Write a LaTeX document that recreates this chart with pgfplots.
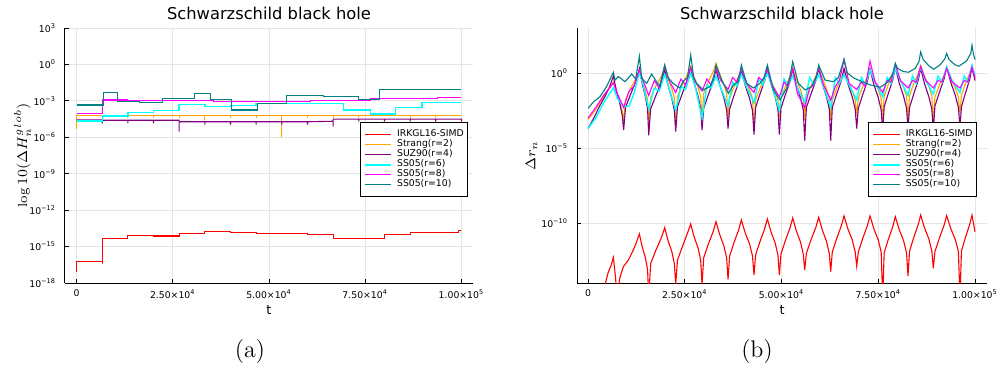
\documentclass[border=0pt]{standalone}
\usepackage{fontspec}
\setsansfont{DejaVu Sans}
\usepackage{pgfplots}
\pgfplotsset{compat=1.18}
\definecolor{cred}{HTML}{FF0000}
\definecolor{corange}{HTML}{FFA500}
\definecolor{cpurple}{HTML}{800080}
\definecolor{ccyan}{HTML}{00FFFF}
\definecolor{cmagenta}{HTML}{FF00FF}
\definecolor{cteal}{HTML}{008080}
\pgfplotsset{
  mystyle/.style={
    scale only axis,
    height=127.5pt,
    axis x line*=bottom, axis y line*=left,
    axis line style={black, line width=0.5pt, -},
    tick align=inside, major tick length=2pt,
    tick style={black, line width=0.5pt},
    grid=major, major grid style={black!10, line width=0.5pt},
    scaled x ticks=false, scaled y ticks=false,
    xtick={0,25000,50000,75000,100000},
    xticklabels={0, 2.50×10\textsuperscript{4}, 5.00×10\textsuperscript{4}, 7.50×10\textsuperscript{4}, 1.00×10\textsuperscript{5}},
    ticklabel style={font=\sffamily\fontsize{4.65}{5}\selectfont},
    yticklabel style={xshift=-1pt},
    title={Schwarzschild black hole},
    every axis title/.style={font=\sffamily\fontsize{8.15}{9}\selectfont, at={(axis description cs:0.5,1.0588)}, anchor=center},
    xlabel={t},
    xlabel style={font=\sffamily\fontsize{6.4}{7}\selectfont, at={(axis description cs:0.5,-0.106)}, anchor=center},
    ylabel style={font=\fontsize{6.6}{7}\selectfont, anchor=center},
    legend style={draw=black, line width=0.5pt, fill=white, anchor=north east,
      font=\sffamily\fontsize{4.65}{5}\selectfont, inner xsep=2pt, inner ysep=3.5pt,
      row sep=0pt, column sep=2.5pt,
      nodes={inner sep=0pt, text height=3.5pt, text depth=1.5pt},
      column 2/.style={nodes={text width=38pt}}},
    legend cell align=left,
    legend image code/.code={\draw[##1] (0pt,0pt) -- (13.3pt,0pt);},
  }
}
\begin{document}
\begin{tikzpicture}
\path[use as bounding box] (0,0) rectangle (500pt,185.5pt);
% ---------------- (a) ----------------
\begin{axis}[mystyle, at={(32.5pt,44pt)}, anchor=south west, width=204pt,
  xmin=-3000, xmax=103000, ymin=-18, ymax=3,
  ytick={-18,-15,-12,-9,-6,-3,0,3},
  yticklabels={10\textsuperscript{−18},10\textsuperscript{−15},10\textsuperscript{−12},10\textsuperscript{−9},10\textsuperscript{−6},10\textsuperscript{−3},10\textsuperscript{0},10\textsuperscript{3}},
  ylabel={$\log10(\Delta H_n^{glob})$},
  ylabel style={at={(axis description cs:-0.104,0.5)}},
  legend style={at={(axis description cs:0.9885,0.630)}},
]
\addplot[cred, line width=0.55pt] coordinates {(0,-17.07) (0,-16.25) (6667,-16.25) (6667,-16.4) (6667,-14.32) (13333,-14.32) (13333,-14.08) (20000,-14.08) (20000,-14.13) (26667,-14.13) (26667,-13.89) (33333,-13.89) (33333,-13.75) (40000,-13.75) (40000,-13.83) (46667,-13.83) (46667,-13.94) (53333,-13.94) (53333,-13.91) (60000,-13.91) (60000,-14.02) (66667,-14.02) (66667,-14.30) (80000,-14.30) (80000,-14.0) (86667,-14.0) (86667,-13.86) (99200,-13.86) (99200,-13.64) (100000,-13.64)};
\addlegendentry{IRKGL16-SIMD}
\addplot[corange, line width=0.55pt] coordinates {(0,-5.35) (0,-4.2) (6667,-4.2) (6667,-4.4) (6667,-4.17) (13333,-4.17) (13333,-4.4) (13333,-4.17) (20000,-4.17) (20000,-4.4) (20000,-4.17) (26667,-4.17) (26667,-4.4) (26667,-4.17) (33333,-4.17) (33333,-4.6) (33333,-4.17) (40000,-4.17) (40000,-4.4) (40000,-4.17) (46667,-4.17) (46667,-4.4) (46667,-4.17) (53333,-4.17) (53333,-6.0) (53333,-4.17) (60000,-4.17) (60000,-4.4) (60000,-4.17) (66667,-4.17) (66667,-4.4) (66667,-4.17) (73333,-4.17) (73333,-4.4) (73333,-4.17) (80000,-4.17) (80000,-4.0) (80000,-4.17) (86667,-4.17) (86667,-4.6) (86667,-4.17) (93333,-4.17) (93333,-4.4) (93333,-4.17) (100000,-4.17)};
\addlegendentry{Strang(r=2)}
\addplot[cpurple, line width=0.55pt] coordinates {(0,-4.58) (6667,-4.58) (6667,-4.85) (6667,-4.6) (13333,-4.6) (13333,-4.85) (13333,-4.6) (20000,-4.6) (20000,-4.85) (20000,-4.6) (26667,-4.6) (26667,-5.54) (26667,-4.72) (33333,-4.72) (33333,-4.95) (33333,-4.72) (40000,-4.72) (40000,-4.95) (40000,-4.72) (46667,-4.72) (46667,-4.95) (46667,-4.72) (53333,-4.72) (53333,-4.95) (53333,-4.72) (60000,-4.72) (60000,-4.95) (60000,-4.72) (66667,-4.68) (66667,-5.13) (66667,-4.5) (73333,-4.5) (73333,-4.72) (73333,-4.5) (80000,-4.5) (80000,-4.72) (80000,-4.5) (86667,-4.5) (86667,-4.72) (86667,-4.5) (93333,-4.5) (93333,-4.72) (93333,-4.5) (100000,-4.5) (100000,-4.72)};
\addlegendentry{SUZ90(r=4)}
\addplot[ccyan, line width=0.7pt] coordinates {(0,-4.66) (6667,-4.66) (6667,-4.25) (13333,-4.25) (13333,-3.97) (20000,-3.97) (20000,-3.81) (26667,-3.81) (26667,-3.29) (33333,-3.29) (33333,-3.48) (40000,-3.48) (40000,-3.4) (46667,-3.4) (46667,-3.2) (69350,-3.2) (69350,-3.75) (76300,-3.75) (76300,-4.08) (82800,-4.08) (82800,-3.53) (89760,-3.53) (89760,-3.12) (100000,-3.12)};
\addlegendentry{SS05(r=6)}
\addplot[cmagenta, line width=0.55pt] coordinates {(0,-4.03) (6667,-4.03) (6667,-2.93) (13333,-2.93) (13333,-2.97) (35500,-2.97) (35500,-3.05) (60680,-3.05) (60680,-2.99) (76300,-2.99) (76300,-2.82) (93670,-2.82) (93670,-2.71) (100000,-2.71)};
\addlegendentry{SS05(r=8)}
\addplot[cteal, line width=0.55pt] coordinates {(0,-3.34) (7100,-3.34) (7100,-2.3) (10600,-2.3) (10600,-3.07) (16400,-3.07) (16400,-3.12) (22300,-3.12) (22300,-2.79) (30700,-2.79) (30700,-2.38) (34800,-2.38) (34800,-2.87) (40300,-2.87) (40300,-3.75) (47000,-3.75) (47000,-3.2) (54600,-3.2) (54600,-2.58) (64100,-2.58) (64100,-2.65) (73300,-2.65) (73300,-2.87) (78650,-2.87) (78650,-2.05) (100000,-2.05)};
\addlegendentry{SS05(r=10)}
\end{axis}
% ---------------- (b) ----------------
\begin{axis}[mystyle, at={(288.5pt,44pt)}, anchor=south west, width=205pt,
  xmin=-2850, xmax=103100, ymin=-14, ymax=3,
  ytick={-10,-5,0},
  yticklabels={10\textsuperscript{−10},10\textsuperscript{−5},10\textsuperscript{0}},
  ylabel={$\Delta r_n$},
  ylabel style={at={(axis description cs:-0.1105,0.5)}},
  legend style={at={(axis description cs:0.9756,0.630)}},
]
\addplot[cred, line width=0.55pt] coordinates {(0,-15.5) (4300,-14.2) (5200,-13.3) (6000,-12.8) (6550,-12.3) (6805,-12.9) (7100,-13.6) (7300,-14.3) (7400,-15) (8270,-13.6) (9130,-12.91) (10420,-12.47) (11710,-11.8) (12570,-11.24) (13270,-10.73)
(13993,-11.58) (14837,-12.33) (15391,-13.13) (15680,-15) (16176,-12.71) (17539,-11.81) (18984,-10.96) (19810,-10.31)
(20662,-11.16) (21656,-11.91) (22309,-12.71) (22650,-14.1) (23116,-12.47) (24396,-11.57) (25634,-10.72) (26530,-10.07)
(27409,-10.92) (28435,-11.67) (29108,-12.47) (29460,-14.1) (29893,-12.31) (31085,-11.41) (32348,-10.56) (33070,-9.91)
(34003,-10.76) (35092,-11.51) (35807,-12.31) (36180,-13.75) (36593,-12.2) (37728,-11.3) (38932,-10.45) (39620,-9.80)
(40601,-10.65) (41746,-11.4) (42498,-12.2) (42890,-13.47) (43304,-12.13) (44443,-11.23) (45650,-10.38) (46340,-9.73)
(47270,-10.58) (48355,-11.33) (49068,-12.13) (49440,-13.47) (49854,-12.07) (50993,-11.17) (52200,-10.32) (52890,-9.67)
(53820,-10.52) (54905,-11.27) (55618,-12.07) (55990,-13.13) (56424,-12.02) (57619,-11.12) (58886,-10.27) (59610,-9.62)
(60540,-10.47) (61625,-11.22) (62338,-12.02) (62710,-13.24) (63123,-11.93) (64258,-11.03) (65462,-10.18) (66150,-9.53)
(67134,-10.38) (68282,-11.13) (69036,-11.93) (69430,-12.87) (69843,-11.93) (70978,-11.03) (72182,-10.18) (72870,-9.53)
(73851,-10.38) (74996,-11.13) (75748,-11.93) (76140,-15) (76532,-11.98) (77612,-11.08) (78756,-10.23) (79410,-9.58)
(80394,-10.43) (81542,-11.18) (82296,-11.98) (82690,-13.53) (83082,-11.87) (84162,-10.97) (85306,-10.12) (85960,-9.47)
(86941,-10.32) (88086,-11.07) (88838,-11.87) (89230,-13.02) (89644,-11.91) (90783,-11.01) (91990,-10.16) (92680,-9.51)
(93712,-10.36) (94916,-11.11) (95707,-11.91) (96120,-15) (96492,-11.87) (97515,-10.97) (98600,-10.12) (99220,-9.47) (100000,-10.58)};
\addlegendentry{IRKGL16-SIMD}
\addplot[corange, line width=0.55pt] coordinates {(0,-3.1) (1500,-2.6) (3000,-2.0) (4500,-1.4) (5600,-1.0) (6550,-0.6)
(7345,-1.3) (8273,-2.0) (8882,-2.6) (9200,-3.2) (9688,-1.8) (11032,-1.0) (12456,-0.35) (13270,0.2)
(13993,-0.5) (14837,-1.2) (15391,-1.8) (15680,-3.4) (16176,-1.65) (17539,-0.85) (18984,-0.2) (19810,0.35)
(20662,-0.35) (21656,-1.05) (22309,-1.65) (22650,-3.5) (23116,-1.55) (24396,-0.75) (25634,-0.1) (26530,0.45)
(27409,-0.25) (28435,-0.95) (29108,-1.55) (29460,-3.1) (29893,-1.36) (31085,-0.56) (32348,0.09) (33070,0.64)
(34003,-0.06) (35092,-0.76) (35807,-1.36) (36180,-3.0) (36593,-1.7) (37728,-0.9) (38932,-0.25) (39620,0.3)
(40601,-0.4) (41746,-1.1) (42498,-1.7) (42890,-3.7) (43304,-1.8) (44443,-1.0) (45650,-0.35) (46340,0.2)
(47270,-0.5) (48355,-1.2) (49068,-1.8) (49440,-3.0) (49854,-1.7) (50993,-0.9) (52200,-0.25) (52890,0.3)
(53820,-0.4) (54905,-1.1) (55618,-1.7) (55990,-3.1) (56424,-1.65) (57619,-0.85) (58886,-0.2) (59610,0.35)
(60540,-0.35) (61625,-1.05) (62338,-1.65) (62710,-3.1) (63123,-1.8) (64258,-1.0) (65462,-0.35) (66150,0.2)
(67134,-0.5) (68282,-1.2) (69036,-1.8) (69430,-2.8) (69843,-1.7) (70978,-0.9) (72182,-0.25) (72870,0.3)
(73851,-0.4) (74996,-1.1) (75748,-1.7) (76140,-3.1) (76532,-1.55) (77612,-0.75) (78756,-0.1) (79410,0.45)
(80394,-0.25) (81542,-0.95) (82296,-1.55) (82690,-3.2) (83082,-1.5) (84162,-0.7) (85306,-0.05) (85960,0.5)
(86941,-0.2) (88086,-0.9) (88838,-1.5) (89230,-3.3) (89644,-1.6) (90783,-0.8) (91990,-0.15) (92680,0.4)
(93712,-0.3) (94916,-1.0) (95707,-1.6) (96120,-2.7) (96492,-1.5) (97515,-0.7) (98600,-0.05) (99220,0.5) (100000,-0.4)};
\addlegendentry{Strang(r=2)}
\addplot[cpurple, line width=0.55pt] coordinates {(0,-3.7) (1500,-3.0) (3000,-2.2) (4500,-1.5) (5600,-0.9) (6550,-0.2)
(7345,-1.2) (8273,-2.1) (8882,-2.9) (9200,-3.8) (9688,-2.3) (11032,-1.4) (12456,-0.5) (13270,0.3)
(13993,-0.7) (14837,-1.6) (15391,-2.4) (15680,-4.15) (16176,-2.4) (17539,-1.5) (18984,-0.6) (19810,0.2)
(20662,-0.8) (21656,-1.7) (22309,-2.5) (22650,-3.9) (23116,-2.25) (24396,-1.35) (25634,-0.45) (26530,0.35)
(27409,-0.65) (28435,-1.55) (29108,-2.35) (29460,-3.8) (29893,-2.35) (31085,-1.45) (32348,-0.55) (33070,0.25)
(34003,-0.75) (35092,-1.65) (35807,-2.45) (36180,-3.7) (36593,-2.4) (37728,-1.5) (38932,-0.6) (39620,0.2)
(40601,-0.8) (41746,-1.7) (42498,-2.5) (42890,-4.1) (43304,-2.3) (44443,-1.4) (45650,-0.5) (46340,0.3)
(47270,-0.7) (48355,-1.6) (49068,-2.4) (49440,-4.1) (49854,-2.35) (50993,-1.45) (52200,-0.55) (52890,0.25)
(53820,-0.75) (54905,-1.65) (55618,-2.45) (55990,-4.5) (56424,-2.3) (57619,-1.4) (58886,-0.5) (59610,0.3)
(60540,-0.7) (61625,-1.6) (62338,-2.4) (62710,-4.5) (63123,-2.3) (64258,-1.4) (65462,-0.5) (66150,0.3)
(67134,-0.7) (68282,-1.6) (69036,-2.4) (69430,-3.7) (69843,-2.35) (70978,-1.45) (72182,-0.55) (72870,0.25)
(73851,-0.75) (74996,-1.65) (75748,-2.45) (76140,-3.9) (76532,-2.25) (77612,-1.35) (78756,-0.45) (79410,0.35)
(80394,-0.65) (81542,-1.55) (82296,-2.35) (82690,-3.7) (83082,-2.3) (84162,-1.4) (85306,-0.5) (85960,0.3)
(86941,-0.7) (88086,-1.6) (88838,-2.4) (89230,-3.8) (89644,-2.2) (90783,-1.3) (91990,-0.4) (92680,0.4)
(93712,-0.6) (94916,-1.5) (95707,-2.3) (96120,-3.6) (96492,-2.25) (97515,-1.35) (98600,-0.45) (99220,0.35) (100000,-0.5)};
\addlegendentry{SUZ90(r=4)}
\addplot[ccyan, line width=0.7pt] coordinates {(0,-3.7) (2000,-3.0) (4000,-2.0) (5500,-1.4) (6550,-1.0)
(7610,-1.7) (9200,-2.25) (10625,-2.2) (11846,-1.4) (13270,0.1)
(14234,-0.8) (15680,-2.4) (17126,-1.0) (18365,-1.2) (19810,-0.1)
(20946,-1.0) (22650,-2.5) (24008,-0.9) (25172,-1.1) (26530,0.0)
(27702,-0.9) (29460,-3.0) (30724,-0.8) (31807,-1.0) (33070,-0.2)
(34314,-1.0) (36180,-2.2) (37384,-0.6) (38416,-0.9) (39620,-0.1)
(40928,-0.9) (42890,-2.0) (44098,-0.4) (45133,-0.8) (46340,0.0)
(47580,-0.9) (49440,-2.5) (50648,-0.4) (51683,-0.8) (52890,-0.2)
(54130,-1.0) (55990,-2.0) (57257,-0.3) (58343,-0.8) (59610,-0.1)
(60850,-0.9) (62710,-2.3) (63914,-0.3) (64946,-0.7) (66150,-0.1)
(67462,-0.8) (69430,-1.8) (70634,-0.3) (71666,-0.8) (72870,0.2)
(74178,-0.6) (76140,-1.6) (77285,-0.3) (78266,-0.7) (79410,0.3)
(80722,-0.5) (82690,-1.5) (83835,-0.2) (84816,-0.7) (85960,0.4)
(87268,-0.5) (89230,-1.4) (90438,-0.2) (91473,-0.6) (92680,0.4)
(94056,-0.5) (96120,-1.3) (97205,-0.2) (98135,-0.6) (99220,0.5) (100000,-0.2)};
\addlegendentry{SS05(r=6)}
\addplot[cmagenta, line width=0.55pt] coordinates {(0,-3.0) (2000,-2.3) (4000,-1.5) (5500,-1.0) (6550,-0.67)
(7610,-1.4) (9200,-2.3) (10625,-1.2) (11846,-0.9) (13270,0.2)
(14234,-0.5) (15680,-1.5) (17126,-0.5) (18365,-1.0) (19810,0.5)
(20946,-0.5) (22650,-1.3) (24008,-0.4) (25172,-0.8) (26530,0.3)
(27702,-0.6) (29460,-1.2) (30724,-0.4) (31807,-0.8) (33070,0.3)
(34314,-0.5) (36180,-1.1) (37384,-0.3) (38416,-0.6) (39620,0.25)
(40928,-0.7) (42890,-1.3) (44098,-0.3) (45133,-0.5) (46340,0.2)
(47580,-0.8) (49440,-1.6) (50648,-0.6) (51683,-0.9) (52890,0.3)
(54130,-1.4) (55990,-2.3) (57257,-1.0) (58343,-0.8) (59610,0.35)
(60850,-0.8) (62710,-1.8) (63914,-0.9) (64946,-0.5) (66150,0.9)
(67462,-0.7) (69430,-1.1) (70634,-0.6) (71666,-0.9) (72870,0.8)
(74178,-0.6) (76140,-1.3) (77285,-0.5) (78266,-0.6) (79410,0.6)
(80722,-0.5) (82690,-1.0) (83835,-0.5) (84816,-0.6) (85960,0.45)
(87268,-0.5) (89230,-1.0) (90438,-0.5) (91473,-0.6) (92680,0.3)
(94056,-0.6) (96120,-1.0) (97205,-0.5) (98135,-0.6) (99220,0.4) (100000,-0.3)};
\addlegendentry{SS05(r=8)}
\addplot[cteal, line width=0.55pt] coordinates {(0,-2.36) (1500,-1.9) (3100,-1.58) (4800,-0.9) (6550,0.05)
(6980,-0.47) (7840,-0.24) (9560,-0.58) (11280,-0.07) (12300,-0.4) (13270,1.1)
(13870,-0.36) (15160,-0.69) (16450,-0.07) (17500,-0.5) (18600,-0.91) (19810,0.53)
(20700,-0.3) (22000,-0.7) (23700,-1.0) (24600,-0.55) (25700,-0.3) (26530,1.2)
(27300,-0.3) (28080,-0.7) (29800,-1.13) (31520,-0.9) (32500,-0.3) (33070,0.53)
(34540,-0.47) (36260,-1.36) (37550,-0.8) (38850,-0.58) (39620,0.53)
(41000,-0.69) (42720,-1.0) (44440,-0.69) (45500,-0.3) (46340,0.53)
(47890,-1.13) (49610,-1.8) (51340,-1.0) (52200,-0.2) (52890,0.76)
(54350,-0.69) (56070,-1.13) (57790,-0.91) (59000,-0.2) (59610,0.53)
(61240,-0.47) (63390,-0.58) (64700,-0.3) (66150,0.9)
(67000,0.0) (68650,-0.33) (71000,-0.6) (73000,-0.8) (75500,-0.95) (77500,-0.6) (78800,0.0) (79410,0.65)
(80000,0.3) (81500,0.1) (82800,0.05) (84500,0.3) (85500,0.75) (85960,1.4)
(86600,0.9) (88000,0.5) (89300,0.25) (91000,0.55) (92200,0.95) (92680,1.3)
(93300,0.9) (94800,0.55) (95800,0.45) (97800,0.8) (98900,1.3) (99220,1.85) (99600,1.25) (100000,0.9)};
\addlegendentry{SS05(r=10)}
\end{axis}
\node[font=\rmfamily\fontsize{12}{14}\selectfont] at (125pt,9.5pt) {(a)};
\node[font=\rmfamily\fontsize{12}{14}\selectfont] at (378.5pt,9.5pt) {(b)};
\end{tikzpicture}
\end{document}
